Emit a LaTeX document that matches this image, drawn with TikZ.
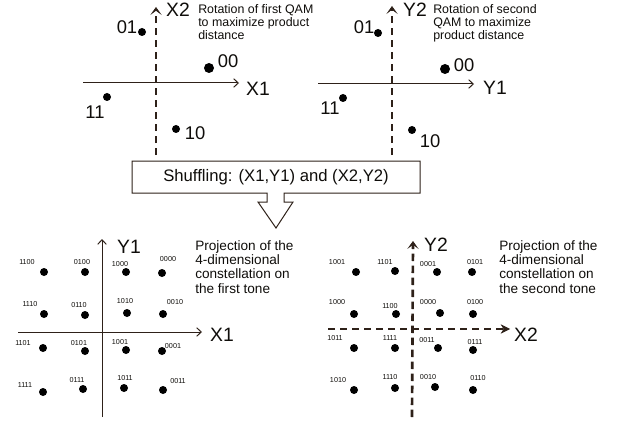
\documentclass[tikz,border=0pt]{standalone}
\usepackage{fontspec}
\setmainfont{Liberation Sans}
\usetikzlibrary{arrows.meta}
\definecolor{axcol}{rgb}{0.18,0.13,0.10}
\definecolor{txtcol}{rgb}{0.06,0.05,0.04}
\begin{document}
\begin{tikzpicture}[x=0.75pt,y=-0.75pt,
  every node/.style={text=txtcol},
  dot/.style={circle,fill=black,inner sep=0pt,minimum size=6pt},
  bigdot/.style={dot,minimum size=7.5pt},
  bitlbl/.style={font=\fontsize{5.4}{6}\selectfont,inner sep=0pt},
  ptlbl/.style={font=\fontsize{13.8}{16}\selectfont,inner sep=0pt},
  axlbl/.style={font=\fontsize{14.5}{17}\selectfont,inner sep=0pt},
  rotnote/.style={align=left,anchor=north west,inner sep=0pt,font=\fontsize{9.3}{9.75}\selectfont},
  projnote/.style={align=left,anchor=north west,inner sep=0pt,font=\fontsize{10.2}{10.6}\selectfont},
  dashaxis/.style={draw=axcol,line width=2pt,dash pattern=on 5.6pt off 3.4pt},
  caret/.style={-{Stealth[length=6pt,width=8.5pt,inset=3.2pt,fill=axcol,line width=0.5pt]}},
  solidaxis/.style={draw=axcol,line width=0.75pt,-{Straight Barb[length=3.5pt,width=6.5pt,line width=0.75pt]}},
  boxline/.style={draw=axcol,line width=0.75pt,fill=white},
]
\useasboundingbox (0,0) rectangle (620,424);

% ---------------- top left: first QAM ----------------
\coordinate (a1s) at (156,155);
\coordinate (a1e) at (156,7);
\draw[dashaxis,caret] (a1s) -- (a1e);
\coordinate (h1s) at (83,83);
\coordinate (h1e) at (239,83);
\draw[solidaxis] (h1s) -- (h1e);
\node[axlbl] (lx2) at (178,10) {X2};
\node[axlbl] (lx1) at (258,89) {X1};
\node[rotnote] (rot1) at (198,4.5) {Rotation of first QAM\\to maximize product\\distance};

\node[dot] (p01a) at (142,32) {};
\node[bigdot] (p00a) at (209,68) {};
\node[dot] (p11a) at (107,97) {};
\node[dot] (p10a) at (176,129) {};
\node[ptlbl] (l01a) at (127,27) {01};
\node[ptlbl] (l00a) at (228,61) {00};
\node[ptlbl] (l11a) at (95,112) {11};
\node[ptlbl] (l10a) at (195,133) {10};

% ---------------- top right: second QAM ----------------
\coordinate (a2s) at (392,155);
\coordinate (a2e) at (392,6);
\draw[dashaxis,caret] (a2s) -- (a2e);
\coordinate (h2s) at (318,84);
\coordinate (h2e) at (474,84);
\draw[solidaxis] (h2s) -- (h2e);
\node[axlbl] (ly2) at (415,10) {Y2};
\node[axlbl] (ly1) at (495,88) {Y1};
\node[rotnote] (rot2) at (433,4.5) {Rotation of second\\QAM to maximize\\product distance};

\node[dot] (p01b) at (378,33) {};
\node[bigdot] (p00b) at (445,69) {};
\node[dot] (p11b) at (343,98) {};
\node[dot] (p10b) at (412,130) {};
\node[ptlbl] (l01b) at (364,27) {01};
\node[ptlbl] (l00b) at (464,65) {00};
\node[ptlbl] (l11b) at (330,108) {11};
\node[ptlbl] (l10b) at (430,141) {10};

% ---------------- shuffling box ----------------
\draw[boxline] (132,161) -- (420,161) -- (420,193) -- (284,193) -- (284,202)
  -- (293,202) -- (276,228) -- (258,202) -- (267,202) -- (267,193) -- (132,193) -- cycle;
\node[font=\fontsize{12.5}{14}\selectfont,inner sep=0pt] (shuf) at (276,177.5) {Shuffling: (X1,Y1) and (X2,Y2)};

% ---------------- bottom left: first tone ----------------
\coordinate (v3s) at (102,417);
\coordinate (v3e) at (102,239);
\draw[solidaxis] (v3s) -- (v3e);
\coordinate (h3s) at (18,332);
\coordinate (h3e) at (202,332);
\draw[solidaxis] (h3s) -- (h3e);
\node[axlbl] (ly1b) at (129,247) {Y1};
\node[axlbl] (lx1b) at (222,335) {X1};
\node[projnote] (proj1) at (195,240.5) {Projection of the\\4-dimensional\\constellation on\\the first tone};

\foreach \nm/\x/\y/\lab/\lx/\ly in {
  c1/44/272/1100/27/262, c2/85/272/0100/82/262, c3/126/272/1000/120/264, c4/162/273/0000/168/259,
  c5/44/314/1110/30/304, c6/85/315/0110/79/305, c7/127/313/1010/125/301, c8/163/314/0010/175/302,
  c9/43/348/1101/23/343, c10/85/351/0101/79/343, c11/126/350/1001/120/342, c12/162/351/0001/173/346,
  c13/43/392/1111/25/385, c14/83/389/0111/77/380, c15/124/388/1011/125/378, c16/163/390/0011/178/381} {
  \node[dot] (d\nm) at (\x,\y) {};
  \node[bitlbl] (t\nm) at (\lx,\ly) {\lab};
}

% ---------------- bottom right: second tone ----------------
\coordinate (v4s) at (412,417);
\coordinate (v4e) at (413,241);
\draw[dashaxis,caret] (v4s) -- (v4e);
\coordinate (h4s) at (328,329);
\coordinate (h4e) at (510,329);
\draw[dashaxis,-{Stealth[length=7pt,width=7pt,inset=2.2pt,fill=axcol,line width=0.5pt]}] (h4s) -- (h4e);
\node[axlbl] (ly2b) at (436,245) {Y2};
\node[axlbl] (lx2b) at (526,335) {X2};
\node[projnote] (proj2) at (499,240.5) {Projection of the\\4-dimensional\\constellation on\\the second tone};

\foreach \nm/\x/\y/\lab/\lx/\ly in {
  e1/356/272/1001/337/262, e2/395/271/1101/385/262, e3/437/272/0001/428/264, e4/472/272/0101/475/262,
  e5/354/314/1000/337/302, e6/396/314/1100/390/306, e7/440/313/0000/428/302, e8/473/314/0100/475/302,
  e9/354/348/1011/335/338, e10/395/348/1111/390/338, e11/438/348/0011/427/340, e12/473/350/0111/475/342,
  e13/354/390/1010/338/380, e14/395/388/1110/390/377, e15/435/387/0010/428/377, e16/473/390/0110/478/378} {
  \node[dot] (d\nm) at (\x,\y) {};
  \node[bitlbl] (t\nm) at (\lx,\ly) {\lab};
}
\end{tikzpicture}
\end{document}
